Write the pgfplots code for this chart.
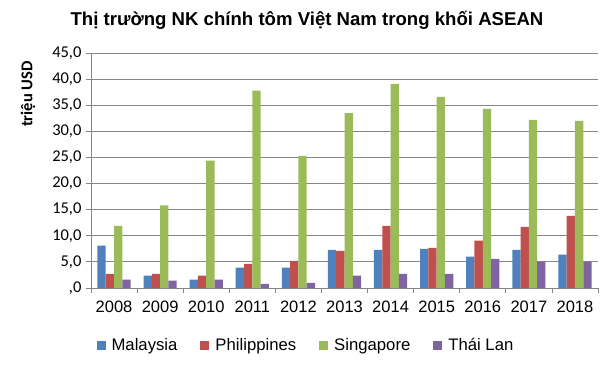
\documentclass[border=0pt]{standalone}
\usepackage{fontspec}
\setmainfont{Liberation Sans}
\newfontfamily\calib{Carlito}
\usepackage{pgfplots}
\pgfplotsset{compat=1.18}
\definecolor{cMal}{HTML}{4F81BD}
\definecolor{cPhi}{HTML}{C0504D}
\definecolor{cSin}{HTML}{9BBB59}
\definecolor{cTha}{HTML}{8064A2}
\definecolor{gridc}{HTML}{868686}
\begin{document}
\begin{tikzpicture}[x=1pt,y=1pt]
\useasboundingbox (0,0) rectangle (612,370);
\node[font=\bfseries\fontsize{18.6}{20}\selectfont] at (307,350) {Thị trường NK chính tôm Việt Nam trong khối ASEAN};
\node[rotate=90,font=\calib\bfseries\fontsize{16.5}{17}\selectfont] at (28,276) {triệu USD};
\begin{axis}[
  at={(91pt,82pt)}, anchor=south west,
  scale only axis, width=507pt, height=235pt,
  xmin=-0.5, xmax=10.5, ymin=0, ymax=45,
  ybar=0pt, bar width=8.3pt,
  axis x line*=bottom, axis y line*=left,
  axis line style={gridc, line width=0.8pt},
  ymajorgrids, grid style={gridc, line width=0.8pt},
  ytick={0,5,...,45},
  yticklabels={{,0},{5,0},{10,0},{15,0},{20,0},{25,0},{30,0},{35,0},{40,0},{45,0}},
  yticklabel style={font=\calib\fontsize{16.5}{17}\selectfont, xshift=-1pt},
  xtick={-0.5,0.5,...,10.5}, xticklabels={},
  extra x ticks={0,1,...,10},
  extra x tick labels={2008,2009,2010,2011,2012,2013,2014,2015,2016,2017,2018},
  extra x tick style={major tick length=0pt, grid=none, tick label style={font=\fontsize{16.5}{17}\selectfont, yshift=-9pt}},
  tick align=outside, major tick length=5pt,
  tick style={gridc, line width=0.8pt},
  legend columns=4,
  legend style={draw=none, fill=none, at={(0.424,-0.243)}, anchor=center,
    font=\fontsize{16.7}{17}\selectfont, /tikz/every even column/.append style={column sep=21pt},
    /tikz/every odd column/.append style={column sep=4pt}},
  legend image code/.code={\fill[#1] (0pt,-4.5pt) rectangle (9pt,4.5pt);},
]
\addplot[fill=cMal, draw=none] coordinates {(0,8.1) (1,2.35) (2,1.6) (3,3.9) (4,3.9) (5,7.3) (6,7.3) (7,7.5) (8,6.0) (9,7.3) (10,6.4)};
\addplot[fill=cPhi, draw=none] coordinates {(0,2.7) (1,2.7) (2,2.35) (3,4.6) (4,5.2) (5,7.1) (6,11.9) (7,7.7) (8,9.05) (9,11.7) (10,13.8)};
\addplot[fill=cSin, draw=none] coordinates {(0,11.9) (1,15.8) (2,24.4) (3,37.8) (4,25.3) (5,33.5) (6,39.1) (7,36.6) (8,34.3) (9,32.2) (10,32.0)};
\addplot[fill=cTha, draw=none] coordinates {(0,1.6) (1,1.4) (2,1.6) (3,0.8) (4,1.0) (5,2.35) (6,2.7) (7,2.7) (8,5.6) (9,5.0) (10,5.0)};
\legend{Malaysia,Philippines,Singapore,Thái Lan}
\end{axis}
\end{tikzpicture}
\end{document}
